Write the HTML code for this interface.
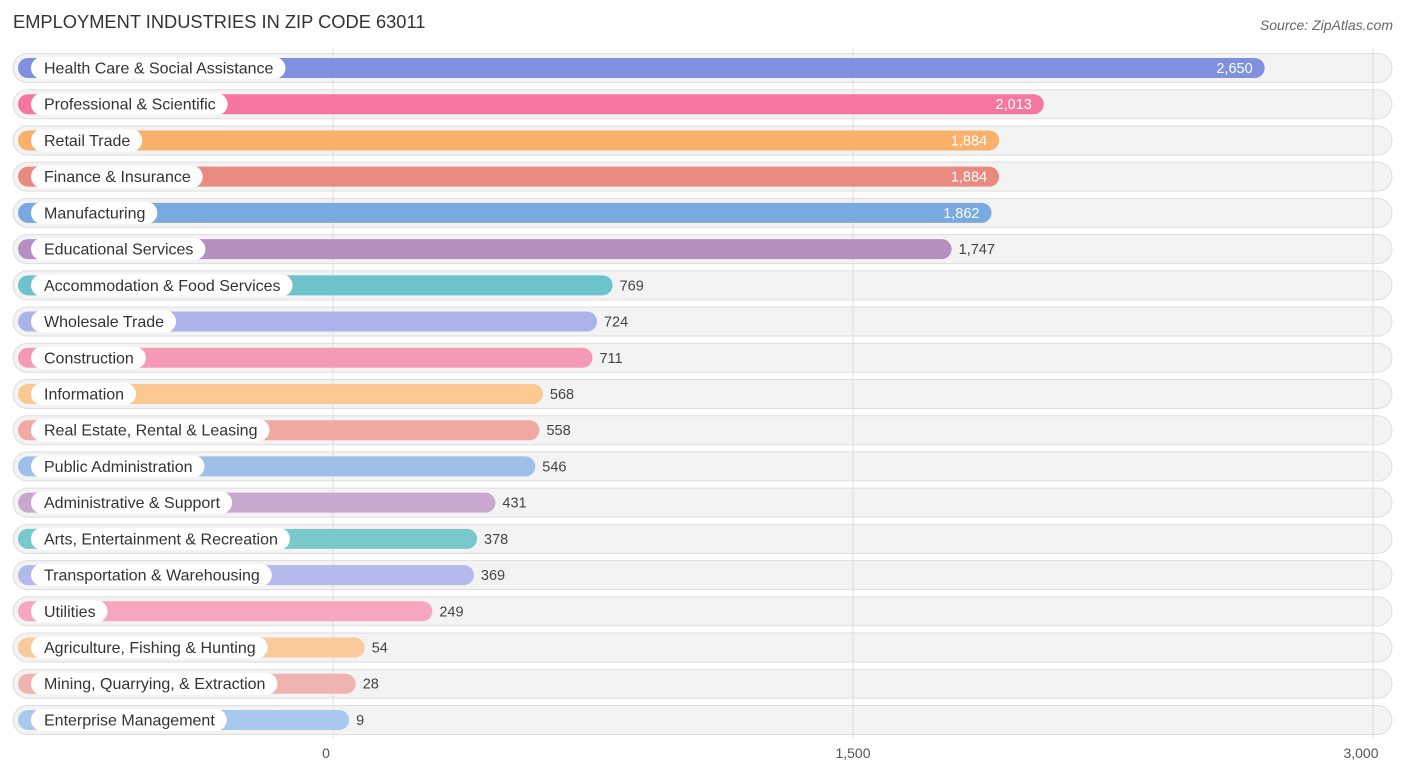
<!DOCTYPE html>
<html><head><meta charset="utf-8"><style>
body{margin:0;background:#fff;font-family:"Liberation Sans",sans-serif;}
svg text{font-family:"Liberation Sans",sans-serif;}
</style></head><body>
<svg id="chart" width="1406" height="776" xmlns="http://www.w3.org/2000/svg">
<text x="13" y="28" font-size="18.3" fill="#333">EMPLOYMENT INDUSTRIES IN ZIP CODE 63011</text>
<text x="1393" y="30" font-size="14" fill="#666" font-style="italic" text-anchor="end">Source: ZipAtlas.com</text>
<g id="rows"></g>
<g id="grid"></g>
<g id="bars"></g>
<g id="ticks"></g>
</svg>
<script>
const categories=["Health Care & Social Assistance","Professional & Scientific","Retail Trade","Finance & Insurance","Manufacturing","Educational Services","Accommodation & Food Services","Wholesale Trade","Construction","Information","Real Estate, Rental & Leasing","Public Administration","Administrative & Support","Arts, Entertainment & Recreation","Transportation & Warehousing","Utilities","Agriculture, Fishing & Hunting","Mining, Quarrying, & Extraction","Enterprise Management"];
const values=[2650,2013,1884,1884,1862,1747,769,724,711,568,558,546,431,378,369,249,54,28,9];
const colors=["#7f90de","#f5779f","#f8b06a","#e98a80","#78aadf","#b48fc0","#6cc3cc","#aab4ea","#f59ab5","#fac890","#f0a9a3","#9ebfe8","#c9a8d0","#79c8cc","#b3b9ea","#f7a6bf","#fac99c","#f0b4b0","#a9c8ee"];
const tickValues=[0,1500,3000];
const tickLabels=["0","1,500","3,000"];
const NS="http://www.w3.org/2000/svg";
const x0=333,k=520/1500;
const xs=v=>x0+v*k;
const barEnd=v=>xs(v)+13;
const ry=i=>68+i*36.22;
function mk(tag,attrs,parent){const e=document.createElementNS(NS,tag);for(const a in attrs)e.setAttribute(a,attrs[a]);parent.appendChild(e);return e;}
const rows=document.getElementById('rows'),grid=document.getElementById('grid'),bars=document.getElementById('bars'),ticks=document.getElementById('ticks');
categories.forEach((c,i)=>{
  const y=ry(i);
  const bg=mk('rect',{x:13,y:y-14.5,width:1379,height:29,rx:14.5,fill:'#f3f3f3',stroke:'#dedede','stroke-width':1},rows);
  
  
});
tickValues.forEach((t,i)=>{
  const l=mk('line',{x1:xs(t),x2:xs(t),y1:48,y2:738,stroke:'#ddd','stroke-width':1},grid);
  
  
  const tx=mk('text',{x:xs(t)+(i==0?-7:i==2?-12:0),y:758,'font-size':14,fill:'#555','text-anchor':'middle'},ticks);
  tx.textContent=tickLabels[i];
  
  
});
categories.forEach((c,i)=>{
  const y=ry(i),v=values[i],end=barEnd(v);
  const b=mk('rect',{x:18,y:y-10,width:end-18,height:20,rx:10,fill:colors[i]},bars);
  
  
  const lbl=mk('text',{x:44,y:y+5.5,'font-size':16,fill:'#333'},bars);
  lbl.textContent=c;
  const w=lbl.getComputedTextLength();
  const pill=mk('rect',{x:31,y:y-11,width:w+25,height:22,rx:11,fill:'#fff'},bars);
  
  
  bars.appendChild(lbl);
  
  
  const inside=v>1800;
  const vt=mk('text',{x:inside?end-12:end+7,y:y+5,'font-size':14.5,fill:inside?'#fff':'#444','text-anchor':inside?'end':'start'},bars);
  vt.textContent=v.toLocaleString('en-US');
  
  
});
</script>
</body></html>
